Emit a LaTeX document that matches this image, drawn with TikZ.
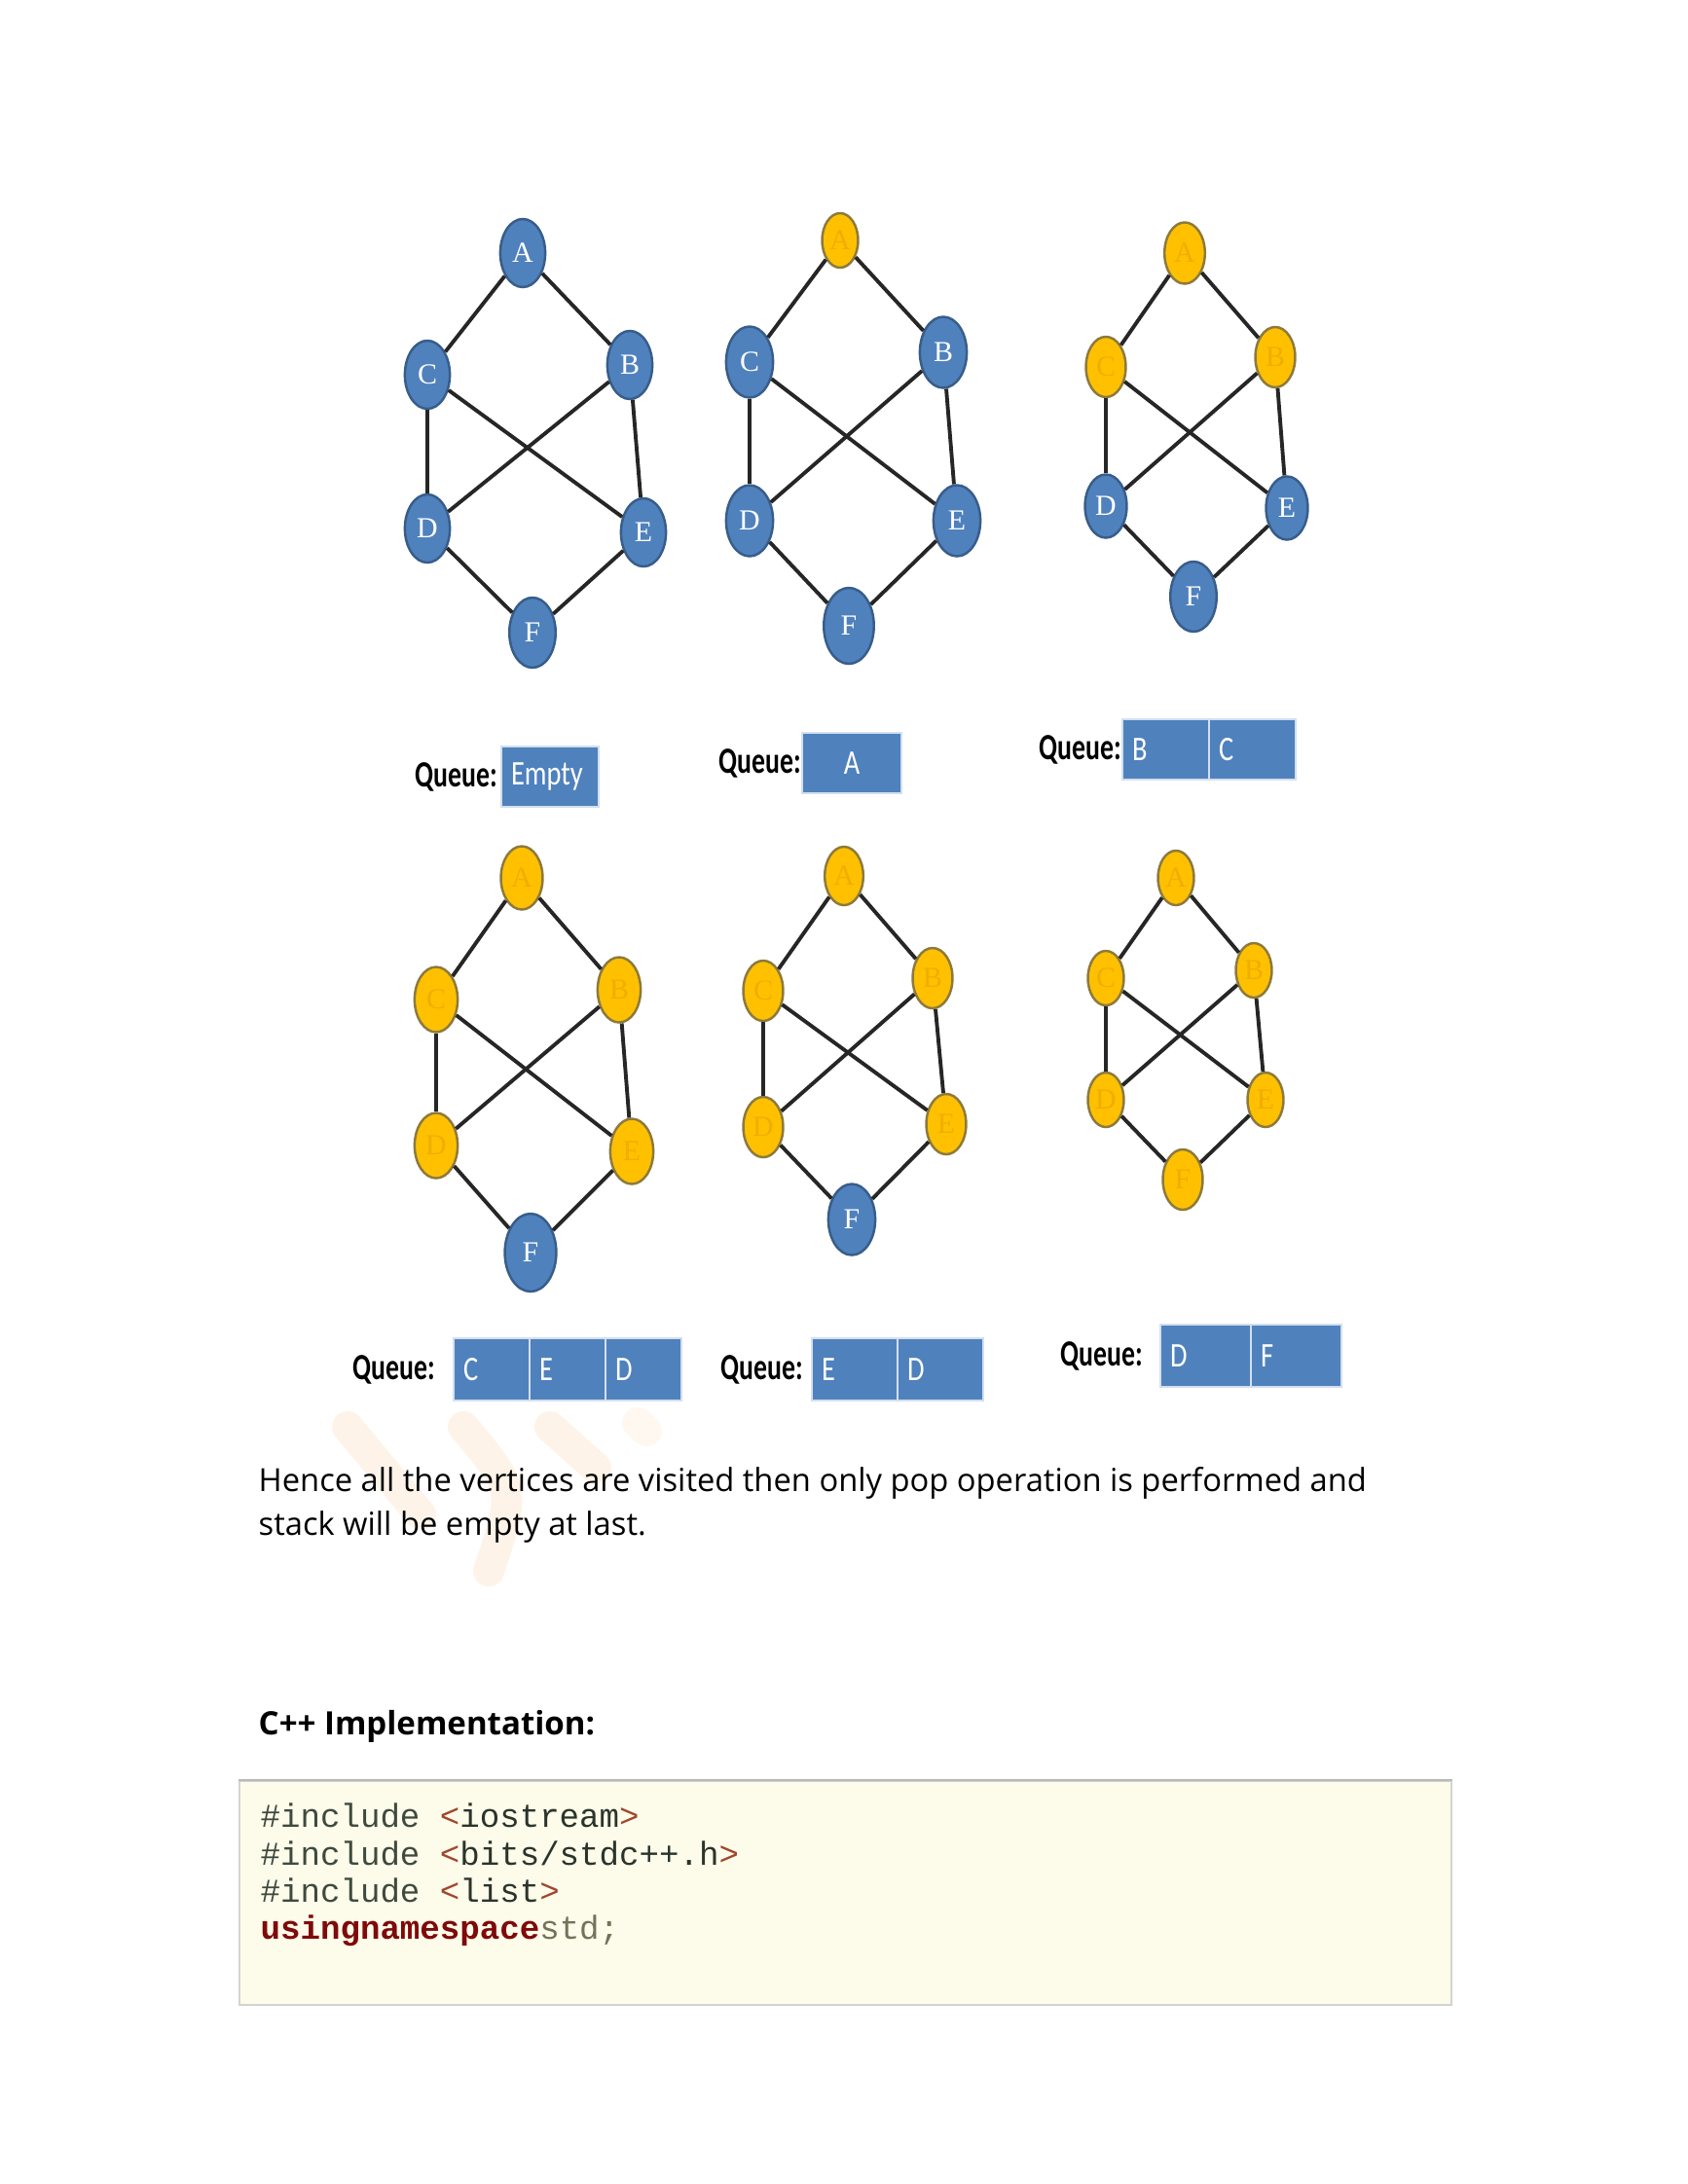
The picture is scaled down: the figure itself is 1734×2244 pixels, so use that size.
\documentclass[tikz,border=0pt]{standalone}
\usepackage{fontspec}
\setmainfont{Open Sans}
\newfontfamily\queuefont{Carlito}[FakeStretch=0.73]
\newfontfamily\cellfont{Carlito}[FakeStretch=0.8]
\newfontfamily\vertexfont{Liberation Serif}
\newfontfamily\codefont{Liberation Mono}
\usepackage{xcolor}
\definecolor{NodeBlue}{HTML}{4F81BD}
\definecolor{NodeBlueEdge}{HTML}{385D8A}
\definecolor{NodeGold}{HTML}{FFC000}
\definecolor{NodeGoldEdge}{HTML}{8C7A3C}
\definecolor{GoldText}{HTML}{F0AE00}
\definecolor{CellBlue}{HTML}{4F81BD}
\definecolor{BoxCream}{HTML}{FDFBEA}
\definecolor{BoxLine}{HTML}{D3D3D3}
\definecolor{IncGrey}{HTML}{3E4A3E}
\definecolor{AngleRed}{HTML}{A0462D}
\definecolor{KeyRed}{HTML}{7F0A0A}
\definecolor{StdGrey}{HTML}{73735A}
\definecolor{WaterOrange}{HTML}{F9C48E}
\usepackage{tikz}
\usetikzlibrary{shapes.geometric, positioning}
\newcommand{\cppinclude}[1]{\textcolor{IncGrey}{\#include} \textcolor{AngleRed}{<}\textcolor{IncGrey!70!black}{#1}\textcolor{AngleRed}{>}}

\begin{document}
\begin{tikzpicture}[x=0.01cm, y=-0.01cm,
  vtx/.style={ellipse, inner sep=0pt, line width=0.7pt,
    font=\vertexfont\fontsize{8.5}{9}\selectfont,
    minimum height=#1, minimum width=0.66*#1},
  fresh/.style={vtx=#1, fill=NodeBlue, draw=NodeBlueEdge, text=white},
  seen/.style={vtx=#1, fill=NodeGold, draw=NodeGoldEdge, text=GoldText},
  link/.style={line width=1.1pt, draw=black!85},
  qtag/.style={font=\queuefont\bfseries\fontsize{10.8}{11}\selectfont, inner sep=0pt},
  qcell/.style={rectangle, fill=CellBlue, draw=white!75!CellBlue, line width=0.6pt,
    minimum height=0.62cm, text width=#1, align=left, inner xsep=0.1cm, text=white,
    font=\cellfont\fontsize{10.1}{11}\selectfont, outer sep=0pt},
  para/.style={anchor=base west, inner sep=0pt, font=\fontsize{9.3}{12.8}\selectfont},
  code/.style={anchor=base west, inner sep=0pt, font=\codefont\fontsize{9.7}{11}\selectfont},
  wmk/.style={line width=0.32cm, line cap=round, draw=WaterOrange, opacity=0.2},
]
\useasboundingbox (0,0) rectangle (1734,2244);

%% -- Watermark ---------------------------------------------------------
\draw[wmk] (357,1466) -- (432,1556);
\draw[wmk] (476,1466) .. controls (530,1530) .. (502,1614);
\draw[wmk] (565,1466) -- (612,1508);
\draw[wmk, opacity=0.12] (655,1462) -- (664,1470);

%% -- Graph 1: nothing visited -------------------------------------------
\node[fresh=0.70cm] (g1A) at (537,260) {A};
\node[fresh=0.70cm] (g1C) at (439,385) {C};
\node[fresh=0.70cm] (g1B) at (647,375) {B};
\node[fresh=0.70cm] (g1D) at (439,543) {D};
\node[fresh=0.70cm] (g1E) at (661,547) {E};
\node[fresh=0.72cm] (g1F) at (547,650) {F};

%% -- Graph 2: A visited -------------------------------------------------
\node[seen=0.56cm]  (g2A) at (863,247) {A};
\node[fresh=0.73cm] (g2C) at (770,372) {C};
\node[fresh=0.73cm] (g2B) at (969,362) {B};
\node[fresh=0.73cm] (g2D) at (770,535) {D};
\node[fresh=0.73cm] (g2E) at (983,535) {E};
\node[fresh=0.78cm] (g2F) at (872,643) {F};

%% -- Graph 3: A, B, C visited -------------------------------------------
\node[seen=0.63cm]  (g3A) at (1217,260) {A};
\node[seen=0.62cm]  (g3C) at (1136,377) {C};
\node[seen=0.62cm]  (g3B) at (1310,367) {B};
\node[fresh=0.65cm] (g3D) at (1136,520) {D};
\node[fresh=0.65cm] (g3E) at (1322,522) {E};
\node[fresh=0.72cm] (g3F) at (1226,613) {F};

%% -- Graph 4: A to E visited --------------------------------------------
\node[seen=0.65cm]  (g4A) at (536,902) {A};
\node[seen=0.67cm]  (g4C) at (448,1027) {C};
\node[seen=0.67cm]  (g4B) at (636,1017) {B};
\node[seen=0.67cm]  (g4D) at (448,1177) {D};
\node[seen=0.67cm]  (g4E) at (649,1183) {E};
\node[fresh=0.80cm] (g4F) at (545,1287) {F};

%% -- Graph 5 --------------------------------------------------------------
\node[seen=0.60cm]  (g5A) at (867,900) {A};
\node[seen=0.62cm]  (g5C) at (784,1018) {C};
\node[seen=0.62cm]  (g5B) at (958,1005) {B};
\node[seen=0.62cm]  (g5D) at (784,1158) {D};
\node[seen=0.62cm]  (g5E) at (972,1155) {E};
\node[fresh=0.73cm] (g5F) at (875,1253) {F};

%% -- Graph 6: all visited -----------------------------------------------
\node[seen=0.56cm] (g6A) at (1208,902) {A};
\node[seen=0.56cm] (g6C) at (1136,1005) {C};
\node[seen=0.56cm] (g6B) at (1288,997) {B};
\node[seen=0.56cm] (g6D) at (1136,1130) {D};
\node[seen=0.56cm] (g6E) at (1300,1130) {E};
\node[seen=0.62cm] (g6F) at (1215,1212) {F};

%% Edges (same graph six times)
\foreach \g in {1,...,6}
  \foreach \u/\v in {A/C, A/B, C/D, C/E, B/D, B/E, D/F, E/F}
    \draw[link] (g\g\u) -- (g\g\v);

%% -- Queues ---------------------------------------------------------------
\node[qcell=0.80cm, anchor=west] (q1a) at (515,798) {Empty};
\node[qtag, left=0.03cm of q1a] (q1t) {Queue:};

\node[qcell=0.82cm, align=center, anchor=west] (q2a) at (824,784) {A};
\node[qtag, left=0cm of q2a] (q2t) {Queue:};

\node[qcell=0.69cm, anchor=west] (q3a) at (1153,770) {B};
\node[qcell=0.69cm, right=0pt of q3a] (q3b) {C};
\node[qtag, left=0cm of q3a] (q3t) {Queue:};

\node[qcell=0.58cm, minimum height=0.64cm, anchor=west] (q4a) at (466,1407) {C};
\node[qcell=0.58cm, minimum height=0.64cm, right=0pt of q4a] (q4b) {E};
\node[qcell=0.58cm, minimum height=0.64cm, right=0pt of q4b] (q4c) {D};
\node[qtag, left=0.18cm of q4a] (q4t) {Queue:};

\node[qcell=0.68cm, minimum height=0.64cm, anchor=west] (q5a) at (834,1407) {E};
\node[qcell=0.68cm, minimum height=0.64cm, right=0pt of q5a] (q5b) {D};
\node[qtag, left=0.08cm of q5a] (q5t) {Queue:};

\node[qcell=0.73cm, minimum height=0.64cm, anchor=west] (q6a) at (1192,1393) {D};
\node[qcell=0.73cm, minimum height=0.64cm, right=0pt of q6a] (q6b) {F};
\node[qtag, left=0.17cm of q6a] (q6t) {Queue:};

%% -- Text -------------------------------------------------------------------
\node[para] (hence1) at (265,1532) {Hence all the vertices are visited then only pop operation is performed and};
\node[para] (hence2) at (265,1577) {stack will be empty at last.};
\node[para, font=\bfseries\fontsize{9.4}{12}\selectfont] (impl) at (265,1782) {C++ Implementation:};

%% -- Code listing -----------------------------------------------------------
\node[rectangle, fill=BoxCream, draw=BoxLine, line width=0.6pt, anchor=north west,
  minimum width=12.44cm, minimum height=2.30cm] (listing) at (245,1829) {};
\draw[black!28, line width=0.8pt] (listing.north west) -- (listing.north east);
\node[code] (line1) at (267,1877) {\cppinclude{iostream}};
\node[code] (line2) at (267,1916) {\cppinclude{bits/stdc++.h}};
\node[code] (line3) at (267,1954) {\cppinclude{list}};
\node[code] (line4) at (267,1992) {\textcolor{KeyRed}{\bfseries usingnamespace}\textcolor{StdGrey}{std;}};

\end{tikzpicture}
\end{document}
